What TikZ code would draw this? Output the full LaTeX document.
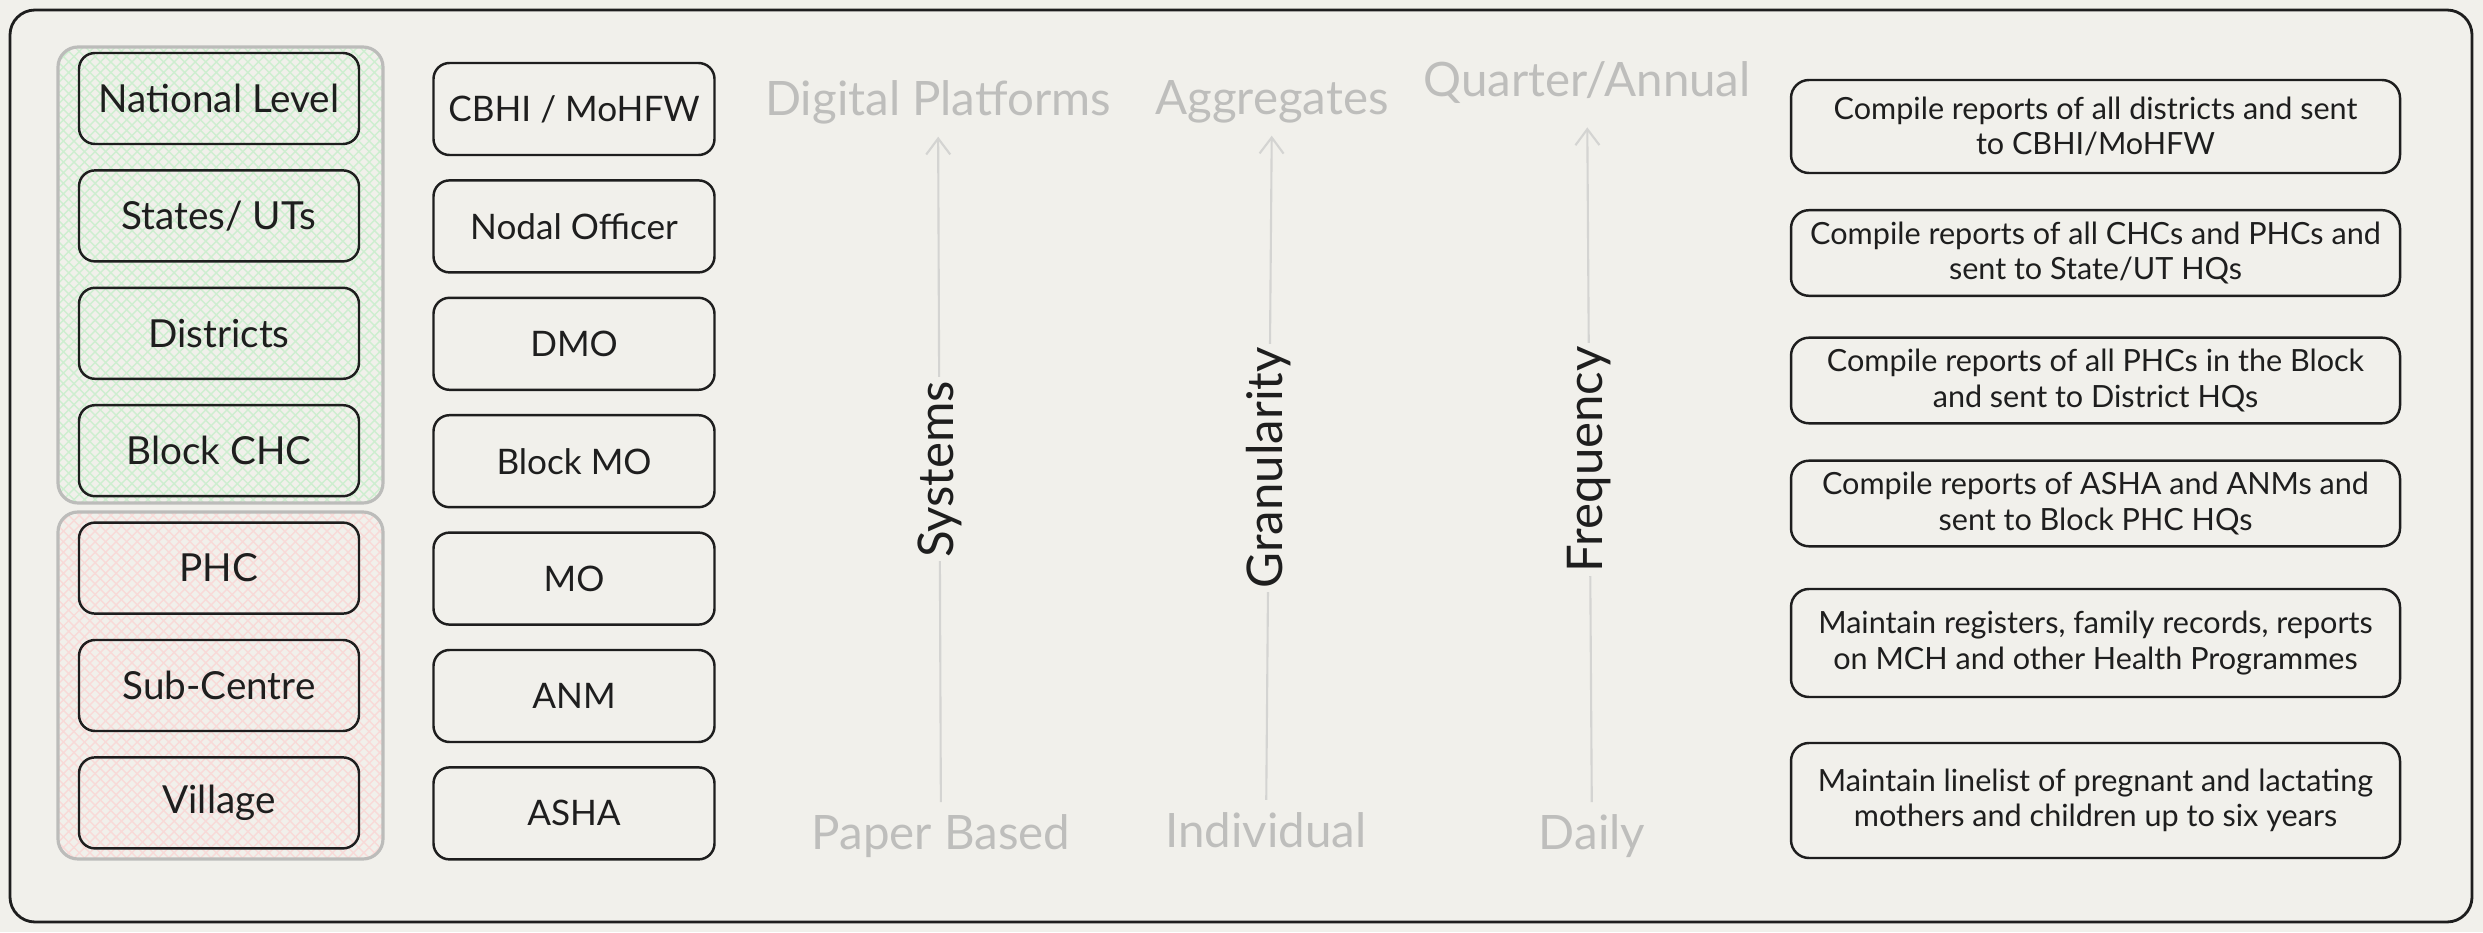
\documentclass[tikz,border=0pt]{standalone}
\usepackage{fontspec}
\setmainfont{Lato}
\usetikzlibrary{arrows.meta,patterns}
\definecolor{paper}{RGB}{241,240,235}
\definecolor{ink}{RGB}{30,30,30}
\definecolor{faded}{RGB}{190,190,188}
\definecolor{axisgray}{RGB}{212,212,210}
\definecolor{grpline}{RGB}{188,188,186}
\definecolor{hatchgreen}{RGB}{206,238,208}
\definecolor{hatchred}{RGB}{248,218,216}
\begin{document}
\begin{tikzpicture}[
	card/.style={draw=ink, line width=0.7pt, rounded corners=0.16cm, text=ink, align=center},
	lvl/.style={card, minimum width=2.80cm, minimum height=0.91cm, font=\fontsize{11}{13}\selectfont},
	role/.style={card, minimum width=2.81cm, minimum height=0.92cm, font=\fontsize{10}{12}\selectfont},
	duty/.style={card, rounded corners=0.18cm, minimum width=6.09cm, font=\fontsize{8.7}{10}\selectfont},
	tier/.style={draw=grpline, line width=0.9pt, rounded corners=0.2cm},
	axisline/.style={draw=axisgray, line width=0.6pt, -{Straight Barb[length=1.6mm,width=2.4mm]}},
	endlabel/.style={text=faded, font=\fontsize{13.5}{16}\selectfont},
	axlabel/.style={text=ink, fill=paper, inner sep=1pt, font=\fontsize{14}{16}\selectfont}
]
\useasboundingbox (0,0) rectangle (24.83,9.32);
\fill[paper] (0,0) rectangle (24.83,9.32);
\draw[ink, line width=0.8pt, rounded corners=0.25cm] (0.10,0.10) rectangle (24.72,9.22);
\draw[tier, pattern=crosshatch, pattern color=hatchgreen] (0.58,4.29) rectangle (3.83,8.85);
\draw[tier, pattern=crosshatch, pattern color=hatchred] (0.58,0.73) rectangle (3.83,4.20);
\foreach \n/\t [count=\k from 0] in {nat/National Level, sta/{States/ UTs}, dst/Districts, chc/Block CHC, phc/PHC, sub/Sub-Centre, vil/Village}
{
	\node[lvl] (\n) at (2.19, 8.335-1.174*\k) {\t};
}
\foreach \n/\t [count=\k from 0] in {cbhi/{CBHI / MoHFW}, nodal/Nodal Officer, dmo/DMO, bmo/Block MO, mo/MO, anm/ANM, asha/ASHA}
{
	\node[role] (\n) at (5.74, 8.23-1.174*\k) {\t};
}
\node[endlabel] (dig) at (9.38, 8.295) {Digital Platforms};
\node[endlabel] (agg) at (12.72, 8.30) {Aggregates};
\node[endlabel] (qa) at (15.87, 8.49) {Quarter/Annual};
\node[endlabel] (pap) at (9.41, 0.96) {Paper Based};
\node[endlabel] (ind) at (12.66, 1.02) {Individual};
\node[endlabel] (day) at (15.92, 0.96) {Daily};
\draw[axisline] (pap) -- node[axlabel, midway, rotate=90] (sys) {Systems} (dig);
\draw[axisline] (ind) -- node[axlabel, midway, rotate=90] (gran) {Granularity} (agg);
\draw[axisline, shorten >=0.11cm] (day) -- node[axlabel, midway, rotate=90] (freq) {Frequency} (qa);
\foreach \n/\y/\h/\t in {natduty/8.055/0.93/{Compile reports of all districts and sent\\to CBHI/MoHFW}, staduty/6.79/0.80/{Compile reports of all CHCs and PHCs and\\sent to State/UT HQs}, dstduty/5.515/0.85/{Compile reports of all PHCs in the Block\\and sent to District HQs}, blkduty/4.285/0.81/{Compile reports of ASHA and ANMs and\\sent to Block PHC HQs}, phcduty/2.89/1.08/{Maintain registers, family records, reports\\on MCH and other Health Programmes}, ashaduty/1.315/1.15/{Maintain linelist of pregnant and lactating\\mothers and children up to six years}}
{
	\node[duty, minimum height=\h cm] (\n) at (20.955, \y) {\t};
}
\end{tikzpicture}
\end{document}
